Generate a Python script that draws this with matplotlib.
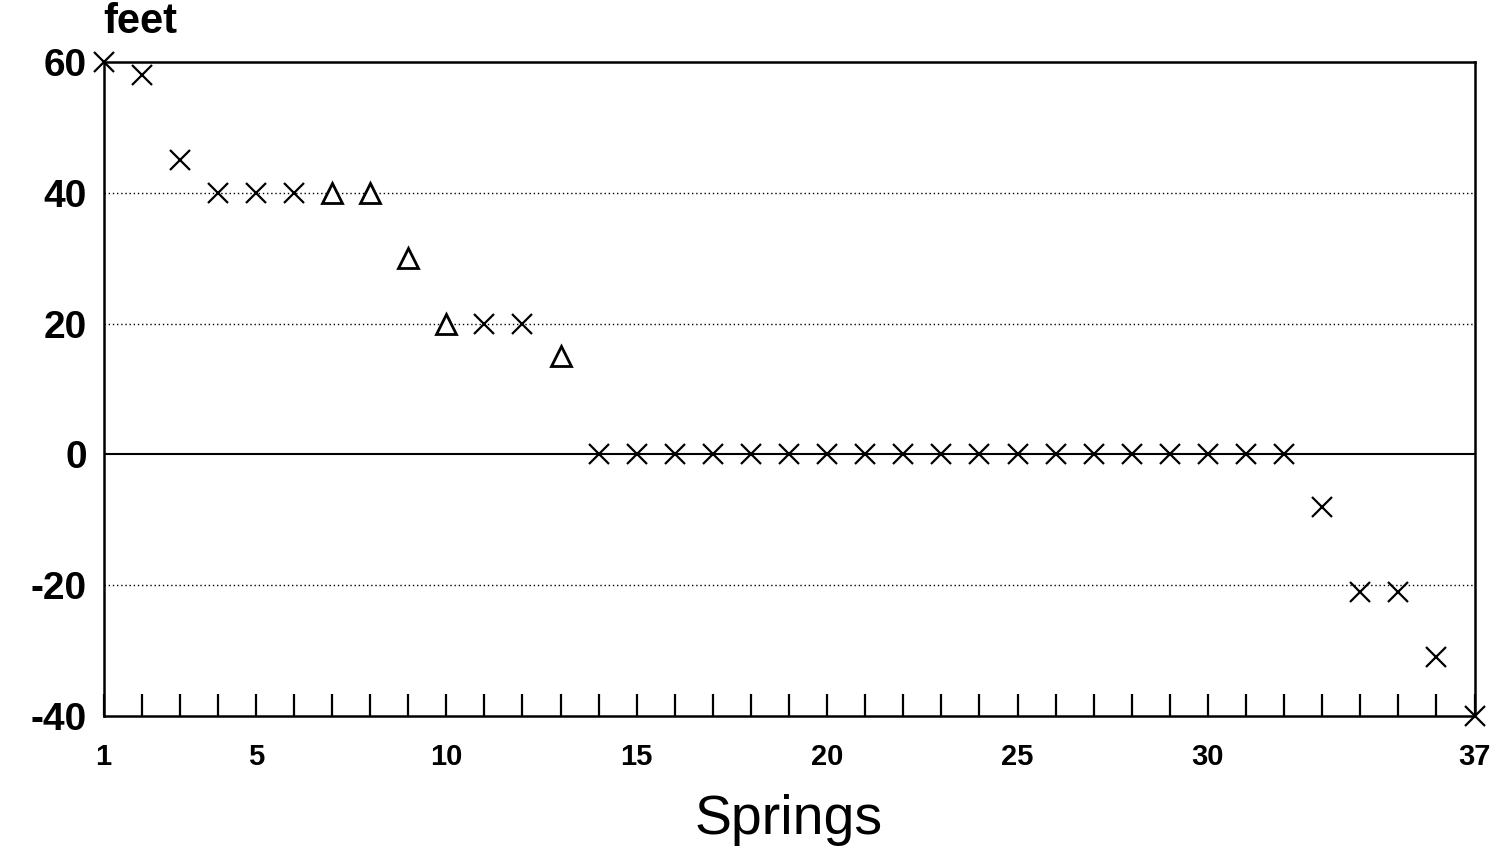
import matplotlib
matplotlib.use("Agg")
import matplotlib.pyplot as plt
import numpy as np

springs = list(range(1, 38))
values = [60, 58, 45, 40, 40, 40, 40, 40, 30, 20, 20, 20, 15,
          0, 0, 0, 0, 0, 0, 0, 0, 0, 0, 0, 0, 0, 0, 0, 0, 0, 0, 0,
          -8, -21, -21, -31, -40]
triangle_springs = [7, 8, 9, 10, 13]
xtick_labels = [1, 5, 10, 15, 20, 25, 30, 37]
yticks = [-40, -20, 0, 20, 40, 60]

plt.rcParams['font.family'] = ['Liberation Sans', 'DejaVu Sans']

fig = plt.figure(figsize=(15, 8.5), dpi=100)
ax = fig.add_axes([0.069, 0.158, 0.914, 0.769])

ax.set_xlim(1, 37)
ax.set_ylim(-40, 60)

for y in [-20, 20, 40]:
    ax.axhline(y, color='black', linestyle=(0, (1, 2)), linewidth=1.0, zorder=1)
ax.axhline(0, color='black', linewidth=1.5, zorder=1)

xs_x = [s for s in springs if s not in triangle_springs]
ys_x = [values[s - 1] for s in xs_x]
xs_t = [s for s in springs if s in triangle_springs]
ys_t = [values[s - 1] for s in xs_t]

ax.plot(xs_x, ys_x, linestyle='none', marker='x', markersize=14,
        markeredgewidth=1.6, color='black', clip_on=False, zorder=3)
ax.plot(xs_t, ys_t, linestyle='none', marker='^', markersize=14,
        markeredgewidth=2.0, markerfacecolor='white', markeredgecolor='black',
        clip_on=False, zorder=3)

for sp in ax.spines.values():
    sp.set_linewidth(1.8)

ax.set_xticks(xtick_labels)
ax.set_xticklabels([str(v) for v in xtick_labels], fontsize=21, fontweight='bold')
ax.set_xticks(springs, minor=True)
ax.tick_params(axis='x', which='both', direction='in', length=16, width=1.6,
               pad=20, top=False)
ax.set_yticks(yticks)
ax.set_yticklabels([str(v) for v in yticks], fontsize=28, fontweight='bold')
ax.tick_params(axis='y', which='both', length=0, pad=12)

ax.set_xlabel('Springs', fontsize=40, labelpad=16)
ax.text(0.0, 1.03, 'feet', transform=ax.transAxes, fontsize=30,
        fontweight='bold', ha='left', va='bottom')

fig.savefig('out.png', dpi=100)
